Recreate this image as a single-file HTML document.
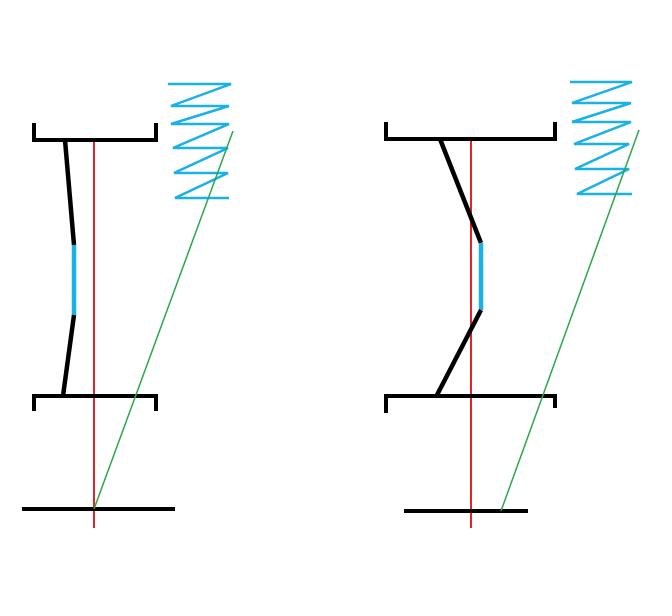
<!DOCTYPE html>
<html><head><meta charset="utf-8"><style>html,body{margin:0;padding:0;background:#fff}svg{display:block}</style></head>
<body>
<svg width="672" height="616" viewBox="0 0 672 616" xmlns="http://www.w3.org/2000/svg">
<g fill="none" stroke-linecap="butt" stroke-linejoin="miter">
<!-- LEFT -->
<line x1="94" y1="139" x2="94" y2="528" stroke="#e0242a" stroke-width="2"/>
<polyline points="34,123 34,140 156,140 156,123" stroke="#000" stroke-width="4"/>
<polyline points="34,411 34,396 156,396 156,411" stroke="#000" stroke-width="4"/>
<line x1="22" y1="509" x2="175" y2="509" stroke="#000" stroke-width="4"/>
<polyline points="65,140 74,245" stroke="#000" stroke-width="4.5"/>
<line x1="74" y1="245" x2="74" y2="315" stroke="#1ab0e8" stroke-width="4.5"/>
<polyline points="74,315 63,396" stroke="#000" stroke-width="4.5"/>
<polyline points="168,84 231,84 171,106 229,106 171,124 229,124 173,148 228,148 174,173 228,173 175,198 229,198" stroke="#1ab0e8" stroke-width="2.5"/>
<line x1="233" y1="131" x2="94" y2="509" stroke="#2aa84a" stroke-width="1.5"/>
<!-- RIGHT -->
<line x1="471" y1="139" x2="471" y2="528" stroke="#e0242a" stroke-width="2"/>
<polyline points="386,122 386,139 555,139 555,122" stroke="#000" stroke-width="4"/>
<polyline points="386,413 386,396 555,396 555,408" stroke="#000" stroke-width="4"/>
<line x1="404" y1="511" x2="528" y2="511" stroke="#000" stroke-width="4"/>
<polyline points="440,139 481,243" stroke="#000" stroke-width="4.5"/>
<line x1="481" y1="243" x2="481" y2="310" stroke="#1ab0e8" stroke-width="4.5"/>
<polyline points="481,310 437,395" stroke="#000" stroke-width="4.5"/>
<polyline points="570,82 632,82 572,103 631,103 572,122 631,122 574,144 629,144 575,169 629,169 577,194 632,194" stroke="#1ab0e8" stroke-width="2.5"/>
<line x1="639" y1="130" x2="501" y2="511" stroke="#2aa84a" stroke-width="1.5"/>
</g>
</svg>
</body></html>
